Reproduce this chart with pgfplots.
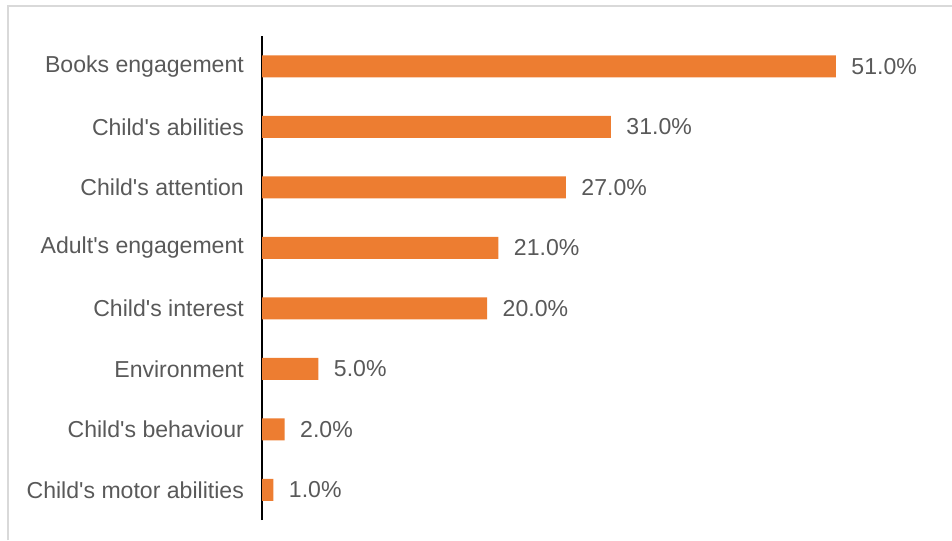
\documentclass[border=0pt]{standalone}
\usepackage{pgfplots}
\pgfplotsset{compat=1.18}
\usepackage{fontspec}
\setmainfont{Liberation Sans}
\definecolor{barorange}{HTML}{ED7D31}
\definecolor{txtgray}{HTML}{595959}
\definecolor{bordergray}{HTML}{D9D9D9}
\begin{document}
\begin{tikzpicture}[x=0.75pt,y=0.75pt]
\useasboundingbox (0,0) rectangle (952,540);
\draw[bordergray, line width=1.2pt] (8,0) -- (8,534) -- (952,534);
\begin{axis}[
  at={(233,33)}, anchor=south west,
  scale only axis, width=506.25pt, height=363pt,
  xbar, bar width=16.5pt,
  xmin=0, xmax=60, ymin=-0.5, ymax=7.5,
  axis x line=none, axis y line=left,
  axis line style={-, black, line width=1.4pt},
  major tick length=0pt,
  ytick={0,1,2,3,4,5,6,7},
  yticklabels={Child\textquotesingle s motor abilities, Child\textquotesingle s behaviour, Environment, Child\textquotesingle s interest, Adult\textquotesingle s engagement, Child\textquotesingle s attention, Child\textquotesingle s abilities, Books engagement},
  yticklabel style={font=\fontsize{17.3}{20}\selectfont, text=txtgray, inner sep=0pt, xshift=-13.5pt},
  point meta=x,
  nodes near coords={\pgfmathprintnumber[fixed, fixed zerofill, precision=1, assume math mode=true]{\pgfplotspointmeta}\%},
  nodes near coords style={font=\fontsize{17.3}{20}\selectfont, text=txtgray, anchor=west, inner sep=0pt, xshift=11.5pt},
  clip=false,
]
\addplot[fill=barorange, draw=none] coordinates {
  (1,0) (2,1) (5,2) (20,3) (21,4) (27,5) (31,6) (51,7)
};
\end{axis}
\end{tikzpicture}
\end{document}
